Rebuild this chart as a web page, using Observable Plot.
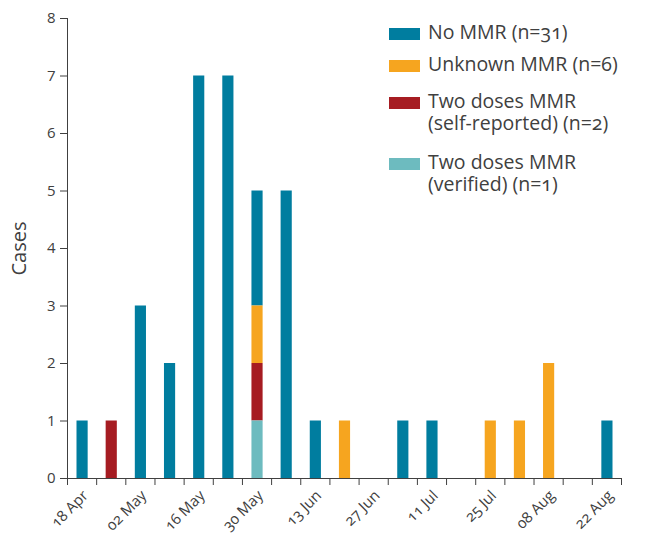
<!DOCTYPE html>
<html><head><meta charset="utf-8">
<script src="https://cdn.jsdelivr.net/npm/d3@7"></script>
<script src="https://cdn.jsdelivr.net/npm/@observablehq/plot@0.6"></script>
<style>
body{margin:0;background:#fff;font-family:"Open Sans",sans-serif;}
#wrap{position:relative;width:651px;height:534px;}
.leg{position:absolute;left:389px;font-size:19.5px;line-height:22px;color:#404040;font-variant-numeric:oldstyle-nums;}
.leg .sw{position:absolute;left:0;top:7px;width:31px;height:12px;}
.leg .tx{position:absolute;left:39px;top:0;white-space:nowrap;}
.leg .ln{display:block;height:22px;line-height:22px;overflow:visible;}
</style></head><body><div id="wrap"></div>
<script>
// Week starts (each bar = one week)
const weeks = ["18 Apr","25 Apr","02 May","09 May","16 May","23 May","30 May","06 Jun","13 Jun","20 Jun","27 Jun","04 Jul","11 Jul","18 Jul","25 Jul","01 Aug","08 Aug","15 Aug","22 Aug"];
const noMMR            = [1,0,3,2,7,7,2,5,1,0,0,1,1,0,0,0,0,0,1];
const unknownMMR       = [0,0,0,0,0,0,1,0,0,1,0,0,0,0,1,1,2,0,0];
const twoDosesSelf     = [0,1,0,0,0,0,1,0,0,0,0,0,0,0,0,0,0,0,0];
const twoDosesVerified = [0,0,0,0,0,0,1,0,0,0,0,0,0,0,0,0,0,0,0];
const seriesKeys = ["No MMR","Unknown MMR","Two doses MMR (self-reported)","Two doses MMR (verified)"];
const legendLines = [["No MMR (n=31)"],["Unknown MMR (n=6)"],["Two doses MMR","(self-reported) (n=2)"],["Two doses MMR","(verified) (n=1)"]];
const colors = ["#007d9f","#f6a51f","#a61c22","#6dbbbf"];
const stackOrder = ["Two doses MMR (verified)","Two doses MMR (self-reported)","Unknown MMR","No MMR"];
const xTickLabels = ["18 Apr","02 May","16 May","30 May","13 Jun","27 Jun","11 Jul","25 Jul","08 Aug","22 Aug"];
const yTicks = [0,1,2,3,4,5,6,7,8];

const parse = d3.utcParse("%d %b %Y");
const toDate = s => parse(s + " 2019");
const starts = weeks.map(toDate);
const lastEnd = d3.utcDay.offset(starts[starts.length-1], 7);
const boundaries = [...starts, lastEnd];
const seriesVals = [noMMR, unknownMMR, twoDosesSelf, twoDosesVerified];
const rows = [];
weeks.forEach((w, i) => {
  seriesKeys.forEach((k, j) => {
    const n = seriesVals[j][i];
    if (n > 0) rows.push({start: starts[i], end: d3.utcDay.offset(starts[i], 7), series: k, n});
  });
});

const chart = Plot.plot({
  width: 651, height: 534,
  marginTop: 18, marginRight: 30, marginBottom: 56, marginLeft: 67,
  style: {fontFamily: "'Open Sans', sans-serif", fontSize: "15px", color: "#404040", background: "white", fontVariantNumeric: "oldstyle-nums"},
  x: {type: "utc", domain: [starts[0], lastEnd]},
  y: {domain: [0, 8]},
  color: {domain: seriesKeys, range: colors},
  marks: [
    Plot.rectY(rows, {x1: "start", x2: "end", y: "n", fill: "series", order: stackOrder, insetLeft: 9.5, insetRight: 8.5}),
    Plot.axisY({ticks: yTicks, tickSize: 7, tickPadding: 5, label: null, fontSize: 15}),
    Plot.axisX({ticks: boundaries, tickSize: 7, tickFormat: () => "", label: null}),
    Plot.text(xTickLabels, {x: d => d3.utcHour.offset(toDate(d), 84), text: d => d, frameAnchor: "bottom", rotate: -45, textAnchor: "end", dx: 7, dy: 18, fontSize: 15}),
    Plot.text(["Cases"], {text: d => d, frameAnchor: "left", textAnchor: "middle", rotate: -90, dx: -48, fontSize: 20}),
    Plot.ruleY([0], {stroke: "#404040"}),
    Plot.ruleX([starts[0]], {stroke: "#404040"})
  ]
});
const wrap = document.getElementById("wrap");
wrap.appendChild(chart);
const tops = [21, 53, 90, 151];
legendLines.forEach((lines, i) => {
  const item = document.createElement("div");
  item.className = "leg";
  item.style.top = tops[i] + "px";
  const sw = document.createElement("div");
  sw.className = "sw";
  sw.style.background = colors[i];
  const tx = document.createElement("div");
  tx.className = "tx";
  lines.forEach(l => {
    const ln = document.createElement("div");
    ln.className = "ln";
    ln.textContent = l;
    tx.appendChild(ln);
  });
  item.appendChild(sw); item.appendChild(tx);
  wrap.appendChild(item);
});
</script></body></html>
